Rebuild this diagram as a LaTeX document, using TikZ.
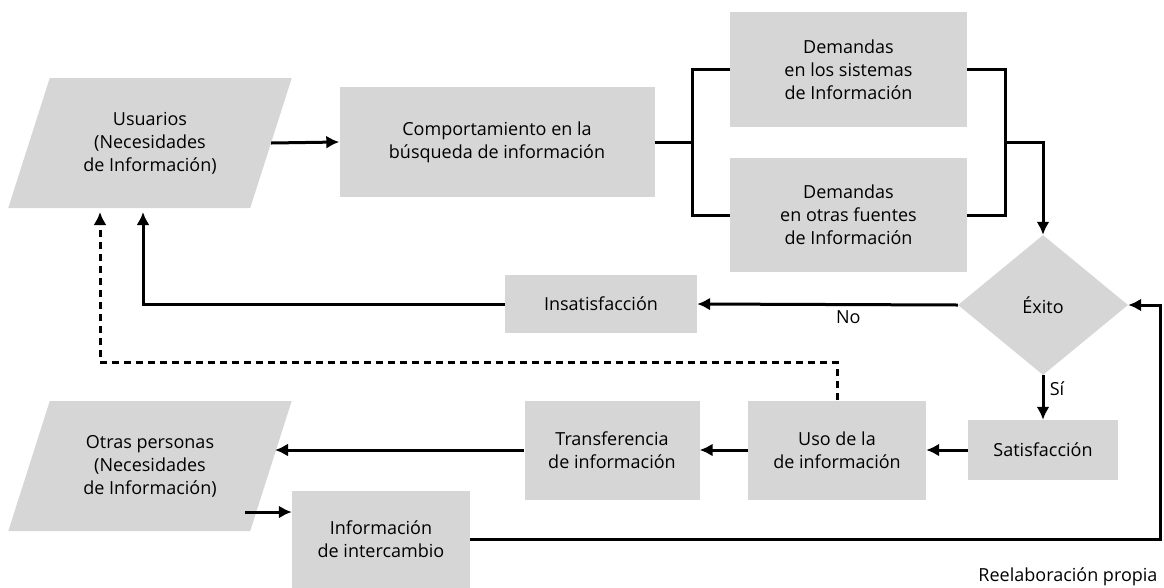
\documentclass[tikz,border=0pt]{standalone}
\usepackage{fontspec}
\setmainfont{Open Sans}
\usetikzlibrary{positioning,arrows.meta,shapes.geometric}
\definecolor{cajagris}{RGB}{214,214,214}
\tikzset{
>={Latex[length=13pt,width=13pt]},
  texto/.style={font=\fontsize{18}{23}\selectfont, align=center},
  caja/.style={
    rectangle,
    fill=cajagris,
    texto,
    inner sep=0pt},
  datos/.style={
    trapezium,
    trapezium left angle=66,
    trapezium right angle=114,
    trapezium stretches=true,
    fill=cajagris,
    minimum width=284pt,
    minimum height=130pt,
    texto,
    inner sep=0pt},
  decision/.style={
    diamond,
    fill=cajagris,
    minimum width=170pt,
    minimum height=140pt,
    texto,
    inner sep=0pt},
  linea/.style={draw, line width=3pt},
  flecha/.style={linea, ->},
  rayas/.style={linea, dashed, dash pattern=on 7pt off 5pt, ->},
}
\begin{document}
\begin{tikzpicture}[x=1pt, y=-1pt]
    \useasboundingbox (0,0) rectangle (1164,587);

    \node [datos] (usuarios) at (150,143) {Usuarios\\(Necesidades\\de Información)};
    \node [caja, minimum width=315pt, minimum height=110pt] (comport) at (497,142)
                                                 {Comportamiento en la\\búsqueda de información};
    \node [caja, minimum width=237pt, minimum height=115pt] (demsist) at (848.5,69.5)
                                                 {Demandas\\en los sistemas\\de Información};
    \node [caja, minimum width=237pt, minimum height=114pt, below of=demsist, node distance=145.5pt]
                                       (demotras) {Demandas\\en otras fuentes\\de Información};
    \node [decision] (exito) at (1043,305) {Éxito};
    \node [caja, minimum width=192pt, minimum height=58pt] (insatis) at (601,304) {Insatisfacción};
    \node [caja, minimum width=150pt, minimum height=60pt, below of=exito, node distance=145pt]
                                       (satis) {Satisfacción};
    \node [caja, minimum width=178pt, minimum height=99pt, left of=satis, node distance=206pt]
                                       (uso) {Uso de la\\de información};
    \node [caja, minimum width=175pt, minimum height=99pt, left of=uso, node distance=225pt]
                                       (transf) {Transferencia\\de información};
    \node [datos, below of=usuarios, node distance=323pt] (otras) {Otras personas\\(Necesidades\\de Información)};
    \node [caja, minimum width=178pt, minimum height=97pt] (intercambio) at (381,539)
                                                 {Información\\de intercambio};
    \node [texto, anchor=east] (fuente) at (1161,577) {Reelaboración propia};

    % puntos de union
    \coordinate (horqizq) at (692,142);
    \coordinate (horqder) at (1005,142);
    \coordinate (usuretorno) at (143,212);
    \coordinate (usuraya) at (100,212);
    \coordinate (esqraya) at (100,362);
    \coordinate (otrasllega) at (275,450);
    \coordinate (otrassale) at (245,512);
    \coordinate (retorno) at (1160,305);

    \draw [flecha] (usuarios.east) -- (comport.west);
    \draw [linea] (comport.east) -- (horqizq);
    \draw [linea] (demsist.west) -| (horqizq) |- (demotras.west);
    \draw [linea] (demsist.east) -| (horqder) |- (demotras.east);
    \draw [flecha] (horqder) -| (exito.north);
    \draw [flecha] (exito.west) -- node[texto, pos=0.42, below=1pt] {No} (insatis.east);
    \draw [flecha] (insatis.west) -| (usuretorno);
    \draw [flecha] (exito.south) -- node[texto, right=2pt, pos=0.3] {Sí} (satis.north);
    \draw [flecha] (satis.west) -- (uso.east);
    \draw [flecha] (uso.west) -- (transf.east);
    \draw [flecha] (transf.west) -- (otrasllega);
    \draw [rayas] (uso.north) |- (esqraya) -- (usuraya);
    \draw [flecha] (otrassale) -- (otrassale -| intercambio.west);
    \draw [flecha] (intercambio.east) -| (retorno) -- (exito.east);

\end{tikzpicture}
\end{document}
